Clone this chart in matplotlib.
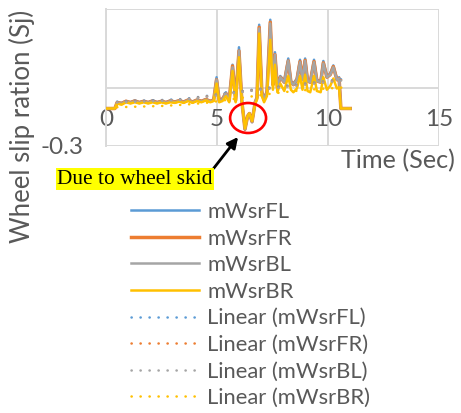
import matplotlib
matplotlib.use("Agg")
import matplotlib.pyplot as plt
from matplotlib.patches import Ellipse

# ---------------- data ----------------
time = [0, 0.4, 0.5, 0.7, 0.9, 1.1, 1.3, 1.5, 1.7, 1.9, 2.1, 2.3, 2.5, 2.7, 2.9, 3.1, 3.3, 3.5,
        3.7, 3.9, 4.1, 4.3, 4.5, 4.7, 4.85, 4.98, 5.1, 5.25, 5.4, 5.55, 5.7, 5.84, 5.99, 6.12,
        6.26, 6.38, 6.46, 6.58, 6.72, 6.8, 6.9, 7.02, 7.12, 7.25, 7.4, 7.52, 7.61, 7.72, 7.85,
        8.03, 8.21, 8.33, 8.44, 8.6, 8.74, 8.85, 8.97, 9.08, 9.2, 9.37, 9.5, 9.67, 9.79, 9.95,
        10.1, 10.24, 10.4, 10.5, 10.58, 11.0]

mWsrBR = [0.0, 0.0, 0.04, 0.03, 0.05, 0.04, 0.05, 0.04, 0.05, 0.04, 0.05, 0.04, 0.05, 0.04, 0.05,
          0.045, 0.055, 0.045, 0.06, 0.045, 0.06, 0.05, 0.065, 0.05, 0.06, 0.20, 0.05, 0.06, 0.10,
          0.05, 0.30, 0.05, 0.41, 0.05, -0.16, -0.06, -0.04, -0.10, 0.04, 0.07, 0.60, 0.10, 0.05,
          0.10, 0.55, 0.15, 0.35, 0.13, 0.20, 0.14, 0.26, 0.15, 0.13, 0.16, 0.26, 0.15, 0.27, 0.14,
          0.13, 0.26, 0.14, 0.13, 0.25, 0.15, 0.18, 0.24, 0.16, 0.17, 0.0, 0.0]

mWsrFL = [0.0, 0.0, 0.05, 0.045, 0.06, 0.05, 0.065, 0.05, 0.06, 0.05, 0.065, 0.05, 0.06, 0.05, 0.065,
          0.055, 0.065, 0.055, 0.07, 0.055, 0.07, 0.06, 0.075, 0.06, 0.07, 0.25, 0.07, 0.08, 0.13,
          0.07, 0.35, 0.07, 0.49, 0.06, -0.17, -0.06, -0.04, -0.11, 0.05, 0.09, 0.67, 0.14, 0.08,
          0.14, 0.71, 0.20, 0.45, 0.18, 0.26, 0.22, 0.40, 0.22, 0.20, 0.24, 0.39, 0.24, 0.40, 0.23,
          0.22, 0.39, 0.23, 0.22, 0.38, 0.26, 0.28, 0.345, 0.24, 0.25, 0.0, 0.0]

mWsrFR = [0.0, 0.0, 0.048, 0.04, 0.058, 0.048, 0.06, 0.048, 0.058, 0.048, 0.06, 0.048, 0.058, 0.048, 0.06,
          0.052, 0.062, 0.052, 0.068, 0.052, 0.068, 0.058, 0.072, 0.058, 0.068, 0.23, 0.065, 0.075, 0.12,
          0.065, 0.34, 0.065, 0.46, 0.055, -0.165, -0.06, -0.04, -0.105, 0.05, 0.085, 0.65, 0.13, 0.07,
          0.13, 0.69, 0.19, 0.43, 0.17, 0.25, 0.21, 0.38, 0.21, 0.19, 0.23, 0.375, 0.23, 0.385, 0.22,
          0.21, 0.375, 0.22, 0.21, 0.365, 0.25, 0.27, 0.335, 0.23, 0.24, 0.0, 0.0]

mWsrBL = [0.0, 0.0, 0.046, 0.038, 0.056, 0.046, 0.058, 0.046, 0.056, 0.046, 0.058, 0.046, 0.056, 0.046, 0.058,
          0.05, 0.06, 0.05, 0.066, 0.05, 0.066, 0.056, 0.07, 0.056, 0.066, 0.23, 0.062, 0.072, 0.12,
          0.062, 0.33, 0.062, 0.46, 0.055, -0.165, -0.06, -0.04, -0.105, 0.05, 0.085, 0.64, 0.13, 0.07,
          0.13, 0.68, 0.19, 0.43, 0.17, 0.25, 0.21, 0.38, 0.21, 0.19, 0.23, 0.37, 0.23, 0.38, 0.22,
          0.21, 0.37, 0.22, 0.21, 0.36, 0.25, 0.27, 0.33, 0.23, 0.24, 0.0, 0.0]

# dotted "Linear" series
trend_time = [0.5, 1.5, 2.5, 3.5, 4.5, 5.5, 6.5, 7.5, 8.5, 9.5, 10.7]
linFL = [0.055, 0.062, 0.068, 0.076, 0.10, 0.125, 0.148, 0.17, 0.19, 0.21, 0.236]
linFR = [0.05, 0.057, 0.063, 0.071, 0.095, 0.12, 0.143, 0.165, 0.185, 0.205, 0.23]
linBL = [0.048, 0.055, 0.061, 0.069, 0.093, 0.118, 0.14, 0.162, 0.182, 0.202, 0.226]
linBR = [0.01, 0.015, 0.02, 0.03, 0.045, 0.07, 0.095, 0.12, 0.14, 0.155, 0.168]

series_labels = ["mWsrFL", "mWsrFR", "mWsrBL", "mWsrBR"]
x_ticks = [0, 5, 10, 15]
x_tick_labels = ["0", "5", "10", "15"]

# ---------------- style ----------------
colors = ["#5B9BD5", "#ED7D31", "#A5A5A5", "#FFC000"]
widths = [1.8, 2.5, 1.8, 1.8]
txt_color = "#595959"
grid_color = "#D9D9D9"
font = "Lato"

plt.rcParams["font.family"] = [font, "DejaVu Sans"]

fig = plt.figure(figsize=(4.61, 4.13), dpi=100)
W, H = 461, 413
ax = fig.add_axes([106 / W, 1 - 146 / H, (439 - 106) / W, (146 - 8.5) / H])

ax.set_xlim(0, 15)
ax.set_ylim(-0.3, 0.8)

solid = [mWsrFL, mWsrFR, mWsrBL, mWsrBR]
lins = [linFL, linFR, linBL, linBR]
handles = []
for vals, c, lw, lab in zip(solid, colors, widths, series_labels):
    h, = ax.plot(time, vals, color=c, lw=lw, solid_joinstyle="round", label=lab, zorder=3)
    handles.append(h)
for vals, c, lab in zip(lins, colors, series_labels):
    h, = ax.plot(trend_time, vals, color=c, lw=1.8, linestyle=(0, (0.1, 3.5)),
                 dash_capstyle="round", label="Linear (%s)" % lab, zorder=4)
    handles.append(h)

# axes styling
for s in ["top", "right"]:
    ax.spines[s].set_visible(False)
ax.spines["left"].set_color(grid_color)
ax.spines["left"].set_linewidth(1.4)
ax.spines["bottom"].set_position(("data", 0))
ax.spines["bottom"].set_visible(False)

ax.set_xticks(x_ticks)
ax.set_xticklabels(x_tick_labels)
ax.set_yticks([-0.3, 0.165, 0.8])
ax.set_yticklabels(["-0.3", "", ""])
ax.tick_params(axis="both", length=0, colors=txt_color, labelsize=17.5)
ax.tick_params(axis="x", pad=0)
ax.tick_params(axis="y", pad=16)
ax.grid(True, color=grid_color, lw=1.4, zorder=0)
ax.set_axisbelow(True)

# labels
fig.text(22 / W, 1 - 126.5 / H, "Wheel slip ration (Sj)", rotation=90, ha="center", va="center",
         fontsize=18.5, color=txt_color)
fig.text(398 / W, 1 - 161 / H, "Time (Sec)", ha="center", va="center", fontsize=18.2, color=txt_color)

# skid marker
ell = Ellipse((6.4, -0.076), width=1.62, height=0.24, fill=False, edgecolor="red", lw=1.9,
              zorder=6, clip_on=False)
ax.add_patch(ell)
ax.annotate("Due to wheel skid", xy=(5.95, -0.228), xycoords="data",
            xytext=(135, H - 179), textcoords="figure pixels",
            ha="center", va="center", fontsize=15.4, family="Liberation Serif", color="black",
            bbox=dict(boxstyle="square,pad=0.06", fc="yellow", ec="none"),
            arrowprops=dict(arrowstyle="-|>", color="black", lw=2, mutation_scale=16,
                            relpos=(1, 1), shrinkA=0, shrinkB=0),
            annotation_clip=False, zorder=7)

fig.legend(handles=handles, loc="upper left", bbox_to_anchor=(131 / W, 1 - 202 / H),
           frameon=False, fontsize=15.8, handlelength=3.1, handletextpad=0.37,
           labelspacing=0.30, borderpad=0, borderaxespad=0, labelcolor=txt_color)

fig.savefig("out.png", dpi=100)
